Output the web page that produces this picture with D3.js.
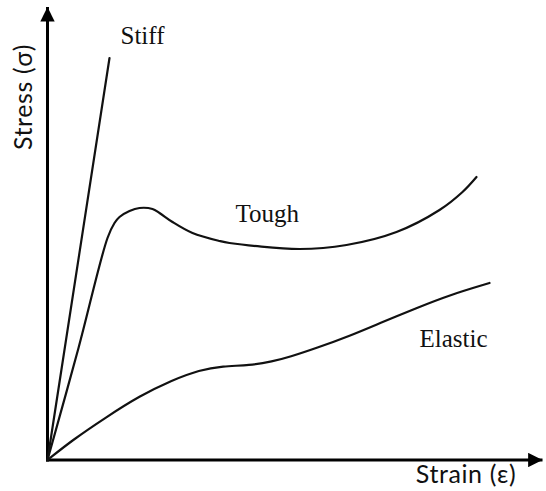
<!DOCTYPE html>
<html>
<head>
<meta charset="utf-8">
<script src="https://cdn.jsdelivr.net/npm/d3@7"></script>
<style>
html,body{margin:0;padding:0;background:#fff;}
svg{display:block;}
</style>
</head>
<body>
<svg id="chart" width="546" height="491"></svg>
<script>
// Data (arbitrary units: strain, stress)
const stiffStrain = [0, 12.4];
const stiffStress = [0, 80.4];

const toughStrain = [0, 6.2, 12.0, 13.4, 14.4, 16.4, 18.4, 21.0, 22.4, 25.0, 29.0, 34.4, 36.4, 50.4, 59.8, 69.8, 78.4, 83.0, 85.8];
const toughStress = [0, 22.4, 44.4, 47.4, 48.6, 49.8, 50.4, 50.2, 49.4, 47.6, 45.4, 43.8, 43.4, 42.2, 43.0, 45.6, 50.0, 53.6, 56.6];

const elasticStrain = [0, 5.0, 11.8, 18.4, 25.0, 30.4, 35.0, 40.4, 45.0, 48.4, 53.8, 60.4, 67.0, 73.8, 80.4, 88.4];
const elasticStress = [0, 4.0, 8.6, 12.8, 16.0, 18.0, 18.8, 18.9, 19.7, 20.6, 22.4, 24.8, 27.6, 30.4, 33.0, 35.4];

const curveLabels = ["Stiff", "Tough", "Elastic"];
const labelStrain = [14.6, 37.6, 74.4];
const labelStress = [83.2, 47.6, 22.6];

const xTitle = "Strain (ε)";
const yTitle = "Stress (σ)";

const svg = d3.select("#chart");
const x = d3.scaleLinear().domain([0, 99]).range([47.5, 542.5]);
const y = d3.scaleLinear().domain([0, 90.6]).range([460, 7]);

// axes with arrowheads
svg.append("defs").append("marker")
  .attr("id", "arrow")
  .attr("viewBox", "0 0 10 10")
  .attr("refX", 10).attr("refY", 5)
  .attr("markerWidth", 5.2).attr("markerHeight", 4.8)
  .attr("markerUnits", "strokeWidth")
  .attr("orient", "auto")
  .append("path").attr("d", "M0,0 L10,5 L0,10 Z").attr("fill", "#000");

svg.append("line")
  .attr("x1", x(0)).attr("y1", y(0) + 1.5)
  .attr("x2", x(0)).attr("y2", y(90.6))
  .attr("stroke", "#000").attr("stroke-width", 3)
  .attr("marker-end", "url(#arrow)");
svg.append("line")
  .attr("x1", x(0) - 1.5).attr("y1", y(0))
  .attr("x2", x(99)).attr("y2", y(0))
  .attr("stroke", "#000").attr("stroke-width", 3)
  .attr("marker-end", "url(#arrow)");

const mk = c => d3.line().x(d => x(d[0])).y(d => y(d[1])).curve(c);
const series = [
  { pts: d3.zip(stiffStrain, stiffStress), gen: mk(d3.curveLinear) },
  { pts: d3.zip(toughStrain, toughStress), gen: mk(d3.curveCatmullRom.alpha(0.5)) },
  { pts: d3.zip(elasticStrain, elasticStress), gen: mk(d3.curveBasis) }
];
svg.selectAll("path.curve").data(series).enter().append("path")
  .attr("class", "curve")
  .attr("d", d => d.gen(d.pts))
  .attr("fill", "none")
  .attr("stroke", "#111")
  .attr("stroke-width", 2.2)
  .attr("stroke-linecap", "round");

svg.selectAll("text.lbl").data(curveLabels).enter().append("text")
  .attr("class", "lbl")
  .attr("x", (d, i) => x(labelStrain[i]))
  .attr("y", (d, i) => y(labelStress[i]))
  .attr("font-family", "Liberation Serif, serif")
  .attr("font-size", 25)
  .attr("fill", "#111")
  .text(d => d);

svg.append("text")
  .attr("x", 466).attr("y", 483)
  .attr("text-anchor", "middle")
  .attr("font-family", "Lato, sans-serif")
  .attr("font-size", 25)
  .attr("letter-spacing", 0.6)
  .attr("fill", "#111")
  .text(xTitle);

svg.append("text")
  .attr("transform", "translate(32,97) rotate(-90)")
  .attr("text-anchor", "middle")
  .attr("font-family", "Lato, sans-serif")
  .attr("font-size", 25)
  .attr("letter-spacing", 0.6)
  .attr("fill", "#111")
  .text(yTitle);
</script>
</body>
</html>
